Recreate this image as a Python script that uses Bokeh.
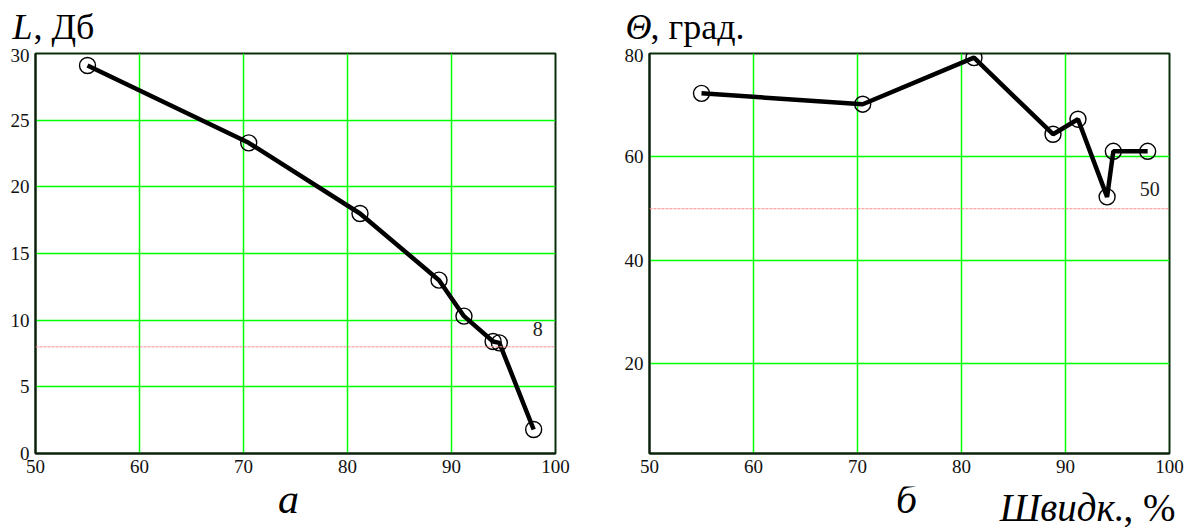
from bokeh.plotting import figure
from bokeh.layouts import row, column
from bokeh.models import Range1d, FixedTicker, Span, Label, ColumnDataSource
from bokeh.embed import file_html
from bokeh.resources import INLINE

# ---- data ----
speed = [55.0, 70.5, 81.2, 88.8, 91.2, 94.0, 94.6, 97.9]
level_db = [29.1, 23.3, 18.0, 13.0, 10.3, 8.4, 8.3, 1.8]
theta_deg = [72.3, 70.2, 79.2, 64.4, 67.3, 52.3, 61.1, 61.1]
x_ticks = [50, 60, 70, 80, 90, 100]
l_ticks = [0, 5, 10, 15, 20, 25, 30]
t_ticks = [20, 40, 60, 80]
l_ref = 8
t_ref = 50

SERIF = "Liberation Serif"
GRID = "#00ff00"
PAGE_W = 1189
PAGE_H = 527
TOP_H = 48      # strip holding the y titles
BOT_Y = 486     # page y where the bottom strip starts
BOT_H = PAGE_H - BOT_Y
MID = 0.34      # em fraction between baseline and the label's anchor line
REF_SIZE = 20


def base_fig(width, left, right, y_range, y_ticks):
    p = figure(width=width, height=BOT_Y - TOP_H, output_backend="svg", toolbar_location=None,
               x_range=Range1d(50, 100), y_range=y_range,
               min_border_left=left, min_border_right=right,
               min_border_top=53 - TOP_H, min_border_bottom=BOT_Y - 453)
    p.background_fill_color = "white"
    p.border_fill_color = "white"
    p.outline_line_color = "#0b2e0b"
    p.outline_line_width = 2
    p.xaxis.ticker = FixedTicker(ticks=x_ticks)
    p.yaxis.ticker = FixedTicker(ticks=y_ticks)
    for ax in (p.xaxis[0], p.yaxis[0]):
        ax.major_tick_out = 0
        ax.major_tick_in = 0
        ax.minor_tick_out = 0
        ax.minor_tick_in = 0
        ax.axis_line_color = "#0b1f0b"
        ax.axis_line_width = 2
        ax.major_label_text_font = SERIF
        ax.major_label_text_font_size = "19px"
        ax.major_label_text_color = "#111111"
    p.xaxis.major_label_standoff = 6
    p.yaxis.major_label_standoff = 6
    p.xgrid.grid_line_color = GRID
    p.ygrid.grid_line_color = GRID
    p.xgrid.grid_line_width = 1.5
    p.ygrid.grid_line_width = 1.5
    return p


def add_series(p, ys, ref, ref_label_x, ref_baseline_px):
    src = ColumnDataSource(dict(x=speed, y=ys))
    p.add_layout(Span(location=ref, dimension="width", line_color="#ff8c8c",
                      line_width=1, line_dash="3 1"))
    p.line("x", "y", source=src, line_color="black", line_width=4.5)
    p.scatter("x", "y", source=src, marker="circle", size=16, fill_color=None,
              line_color="black", line_width=1.4)
    p.add_layout(Label(x=ref_label_x, y=ref, y_offset=ref_baseline_px + MID * REF_SIZE,
                       text=str(ref), text_font=SERIF, text_font_size=f"{REF_SIZE}px",
                       text_align="center", text_baseline="alphabetic",
                       text_color="#222222"))


def strip(height):
    s = figure(width=PAGE_W, height=height, output_backend="svg", toolbar_location=None,
               x_range=Range1d(0, 1), y_range=Range1d(0, 1),
               x_axis_type=None, y_axis_type=None, min_border=0)
    s.outline_line_color = None
    s.background_fill_color = "white"
    s.border_fill_color = "white"
    s.grid.visible = False
    return s


def slabel(s, y0, height, x, y, text, size, italic=False, align="left"):
    # x, y: page position of the text baseline; strip starts at page y0
    y_anchor = y - MID * size
    s.add_layout(Label(x=x, y=y0 + height - y_anchor, x_units="screen", y_units="screen",
                       text=text, text_font=SERIF, text_font_size=f"{size}px",
                       text_font_style="italic" if italic else "normal",
                       text_align=align, text_baseline="alphabetic", text_color="black"))


top = strip(TOP_H)
slabel(top, 0, TOP_H, 12, 39, "L", 36, italic=True)
slabel(top, 0, TOP_H, 33, 39, ", Дб", 36)
slabel(top, 0, TOP_H, 625, 39, "Θ", 36, italic=True)
slabel(top, 0, TOP_H, 650, 39, ", град.", 36)

p1 = base_fig(594, 35, 39, Range1d(0, 30), l_ticks)
add_series(p1, level_db, l_ref, 98.3, 11)
p2 = base_fig(595, 55, 20, Range1d(2.7, 80), t_ticks)
add_series(p2, theta_deg, t_ref, 98.1, 13)

bot = strip(BOT_H)
slabel(bot, BOT_Y, BOT_H, 288, 513, "а", 42, italic=True, align="center")
slabel(bot, BOT_Y, BOT_H, 906, 513, "б", 42, italic=True, align="center")
slabel(bot, BOT_Y, BOT_H, 1124, 520, "Швидк.", 39, italic=True, align="right")
slabel(bot, BOT_Y, BOT_H, 1175, 520, ", %", 39, align="right")

layout = column(top, row(p1, p2, spacing=0), bot, spacing=0)
open("out.html", "w").write(file_html(layout, INLINE))
